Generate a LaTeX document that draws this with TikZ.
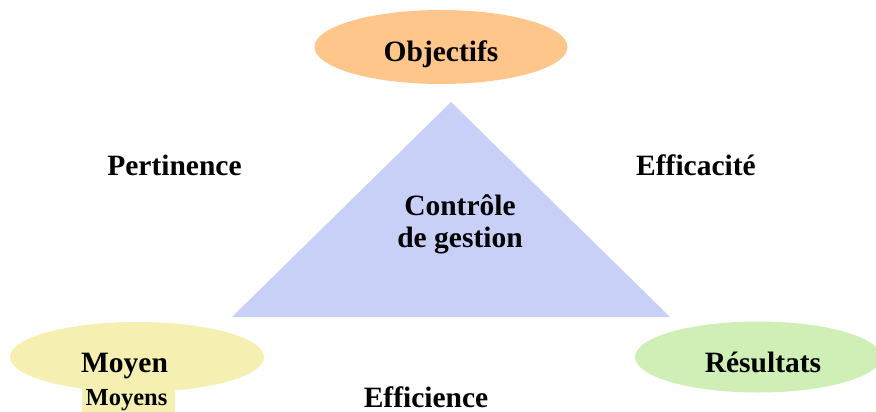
\documentclass[tikz,border=0pt]{standalone}
\usepackage{fontspec}
\setmainfont{Liberation Serif}
\usetikzlibrary{shapes.geometric}
\definecolor{objfill}{HTML}{FFC68C}
\definecolor{moyfill}{HTML}{F5F0B2}
\definecolor{resfill}{HTML}{CFEFB6}
\definecolor{trifill}{HTML}{C8D0F8}
\begin{document}
\begin{tikzpicture}[x=1pt,y=-1pt,
  pole/.style={ellipse, draw=none, inner sep=0pt},
  lbl/.style={font=\fontsize{29.5}{33}\selectfont\bfseries, inner sep=0pt, anchor=base},
  small/.style={font=\fontsize{24.5}{28}\selectfont\bfseries, inner sep=0pt, anchor=base}]
  \useasboundingbox (0,0) rectangle (876,412);
  % triangle
  \coordinate (apex) at (451,102);
  \coordinate (bl) at (232,317);
  \coordinate (br) at (670,317);
  \fill[trifill] (apex) -- (bl) -- (br) -- cycle;
  \node[lbl] (cg1) at (460,215) {Contrôle};
  \node[lbl] (cg2) at (460,247) {de gestion};
  % the three poles
  \node[pole, fill=objfill, minimum width=253pt, minimum height=74pt] (obj) at (441,47) {};
  \node[lbl] (objt) at (441,62) {Objectifs};
  \node[pole, fill=moyfill, minimum width=254pt, minimum height=70pt] (moy) at (137,357) {};
  \node[lbl] (moyt) at (124.5,372) {Moyen};
  \fill[moyfill] (82,387) rectangle (175,412);
  \node[small] (moys) at (126.5,405) {Moyens};
  \node[pole, fill=resfill, minimum width=246pt, minimum height=71pt] (res) at (758,357) {};
  \node[lbl] (rest) at (763,372) {Résultats};
  % criteria
  \node[lbl] (pert) at (174.5,175) {Pertinence};
  \node[lbl] (effic) at (696,175) {Efficacité};
  \node[lbl] (effie) at (426,407) {Efficience};
\end{tikzpicture}
\end{document}
